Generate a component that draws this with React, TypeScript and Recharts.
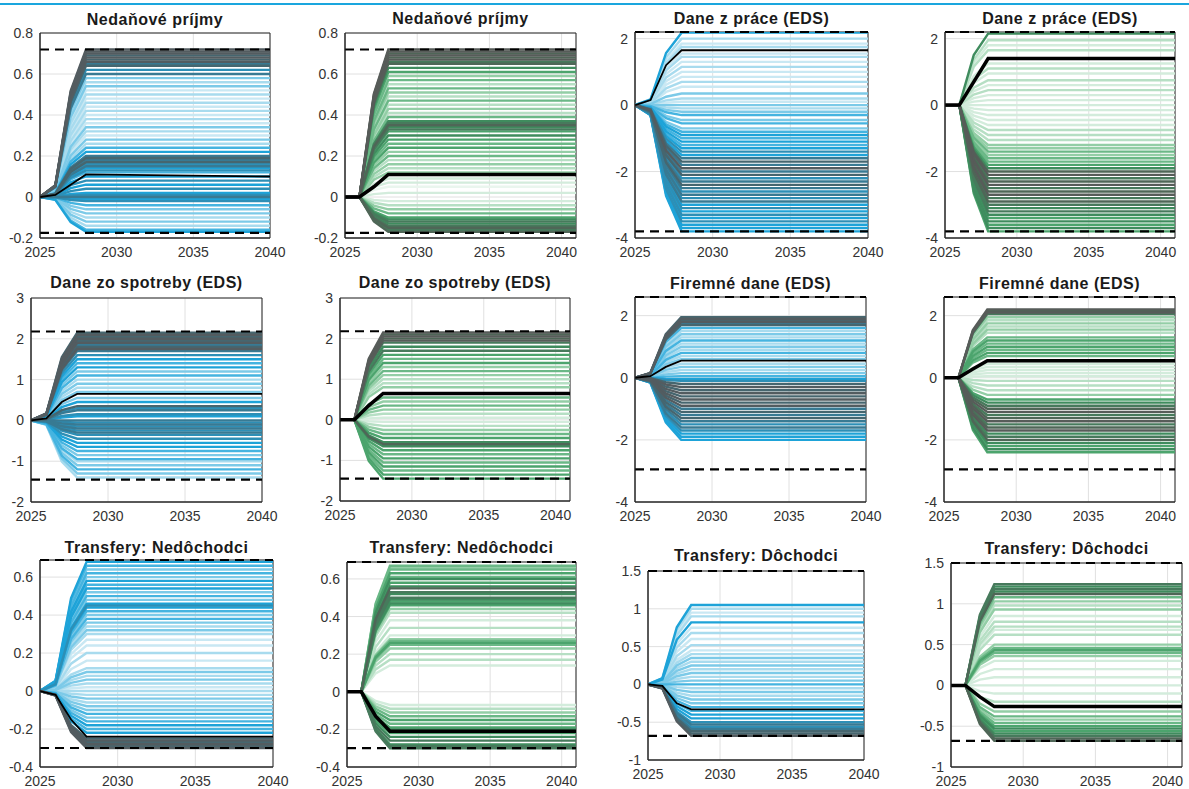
import React from 'react';
import { LineChart, Line, XAxis, YAxis, CartesianGrid, ReferenceLine, ReferenceArea } from 'recharts';

// years on the x axis (blue panels stop at 2040, green ones run to 2041)
const yearsBlue = [2025, 2026, 2027, 2028, 2040];
const yearsGreen = [2025, 2026, 2027, 2028, 2041];
// share of the final level reached in each of those years
const rampBlue = [0, 0.08, 0.72, 1, 1];
const rampGreen = [0, 0, 0.7, 1, 1];
const xTicks = [2025, 2030, 2035, 2040];

const titles = [
  'Nedaňové príjmy', 'Nedaňové príjmy', 'Dane z práce (EDS)', 'Dane z práce (EDS)',
  'Dane zo spotreby (EDS)', 'Dane zo spotreby (EDS)', 'Firemné dane (EDS)', 'Firemné dane (EDS)',
  'Transfery: Nedôchodci', 'Transfery: Nedôchodci', 'Transfery: Dôchodci', 'Transfery: Dôchodci',
];

// final levels of the fan lines, and their weight (0 = pale, 9 = dark)
const p1Levels = [0.72, 0.71, 0.70, 0.69, 0.68, 0.67, 0.66, 0.65, 0.64, 0.62, 0.60, 0.58, 0.56, 0.54, 0.52, 0.50, 0.48, 0.46, 0.44, 0.42, 0.40, 0.38, 0.36, 0.34, 0.32, 0.30, 0.28, 0.26, 0.24, 0.22, 0.20, 0.19, 0.18, 0.17, 0.16, 0.15, 0.14, 0.13, 0.12, 0.10, 0.08, 0.06, 0.04, 0.02, 0.01, 0.0, -0.01, -0.02, -0.04, -0.06, -0.08, -0.10, -0.12, -0.14, -0.16, -0.17];
const p1Weights = [9, 9, 9, 8, 9, 8, 9, 7, 8, 6, 7, 3, 2, 3, 1, 2, 1, 2, 1, 2, 1, 2, 1, 3, 2, 1, 3, 2, 4, 5, 7, 8, 7, 8, 6, 7, 5, 6, 4, 5, 6, 5, 6, 5, 6, 7, 5, 6, 4, 3, 3, 2, 3, 2, 4, 5];
const p2Levels = [0.72, 0.71, 0.70, 0.69, 0.68, 0.67, 0.66, 0.65, 0.63, 0.61, 0.59, 0.57, 0.55, 0.53, 0.51, 0.49, 0.47, 0.45, 0.43, 0.41, 0.39, 0.37, 0.36, 0.35, 0.34, 0.33, 0.32, 0.30, 0.28, 0.26, 0.24, 0.22, 0.20, 0.18, 0.16, 0.14, 0.12, 0.09, 0.07, 0.05, 0.02, -0.02, -0.04, -0.06, -0.08, -0.10, -0.11, -0.12, -0.13, -0.14, -0.15, -0.16, -0.17];
const p2Weights = [9, 9, 8, 9, 8, 9, 7, 8, 6, 5, 3, 4, 2, 4, 3, 2, 4, 2, 3, 2, 4, 6, 7, 8, 6, 7, 5, 6, 5, 4, 5, 3, 4, 2, 3, 2, 3, 1, 1, 0, 1, 1, 2, 3, 4, 5, 6, 7, 6, 7, 8, 7, 8];
const p3Levels = [2.18, 2.0, 1.85, 1.75, 1.55, 1.45, 1.3, 1.15, 1.0, 0.85, 0.7, 0.55, 0.35, 0.2, 0.1, 0.0, -0.1, -0.2, -0.3, -0.45, -0.55, -0.7, -0.8, -0.9, -1.0, -1.1, -1.2, -1.3, -1.4, -1.5, -1.6, -1.7, -1.8, -1.9, -2.0, -2.1, -2.2, -2.3, -2.4, -2.5, -2.6, -2.7, -2.8, -2.9, -3.0, -3.1, -3.2, -3.3, -3.4, -3.5, -3.6, -3.7, -3.8];
const p3Weights = [5, 2, 1, 2, 1, 2, 1, 2, 1, 1, 2, 1, 3, 2, 1, 3, 2, 3, 4, 3, 4, 3, 4, 5, 4, 5, 4, 5, 6, 5, 7, 8, 7, 9, 7, 8, 6, 7, 8, 7, 6, 7, 6, 7, 5, 6, 5, 6, 5, 6, 5, 5, 5];
const p4Levels = [2.15, 1.95, 1.8, 1.65, 1.25, 1.1, 0.95, 0.75, 0.6, 0.45, 0.3, 0.15, 0.0, -0.15, -0.3, -0.45, -0.6, -0.75, -0.9, -1.05, -1.2, -1.3, -1.4, -1.5, -1.6, -1.7, -1.8, -1.9, -2.0, -2.1, -2.2, -2.3, -2.4, -2.5, -2.6, -2.7, -2.8, -2.9, -3.0, -3.1, -3.2, -3.3, -3.4, -3.5, -3.6, -3.7, -3.8];
const p4Weights = [6, 2, 1, 2, 1, 2, 1, 2, 1, 2, 1, 1, 1, 1, 1, 1, 1, 2, 2, 2, 3, 3, 4, 3, 4, 4, 5, 6, 8, 9, 7, 8, 9, 7, 8, 9, 7, 8, 7, 6, 7, 6, 5, 6, 5, 6, 5];
const p5Levels = [2.15, 2.1, 2.05, 2.0, 1.95, 1.9, 1.85, 1.8, 1.75, 1.7, 1.6, 1.5, 1.4, 1.3, 1.2, 1.1, 1.0, 0.9, 0.8, 0.7, 0.55, 0.45, 0.35, 0.3, 0.25, 0.15, 0.1, 0.0, -0.05, -0.1, -0.15, -0.2, -0.25, -0.3, -0.35, -0.45, -0.55, -0.65, -0.75, -0.85, -0.95, -1.0, -1.1, -1.2, -1.3, -1.4];
const p5Weights = [8, 9, 8, 9, 8, 9, 7, 8, 9, 7, 6, 5, 4, 5, 3, 4, 2, 3, 2, 3, 3, 5, 8, 6, 7, 6, 5, 7, 6, 7, 6, 7, 6, 7, 6, 6, 5, 5, 4, 3, 4, 2, 3, 4, 3, 2];
const p6Levels = [2.15, 2.1, 2.05, 2.0, 1.95, 1.9, 1.8, 1.7, 1.6, 1.5, 1.4, 1.3, 1.2, 1.1, 1.0, 0.9, 0.8, 0.55, 0.45, 0.35, 0.25, 0.15, 0.05, -0.05, -0.15, -0.25, -0.35, -0.45, -0.55, -0.6, -0.65, -0.75, -0.85, -0.95, -1.05, -1.15, -1.25, -1.35, -1.45];
const p6Weights = [9, 8, 9, 8, 9, 7, 6, 7, 5, 4, 5, 3, 4, 3, 2, 2, 3, 4, 3, 4, 3, 2, 1, 1, 2, 3, 4, 5, 6, 8, 6, 5, 4, 5, 4, 5, 4, 5, 5];
const p7Levels = [1.95, 1.9, 1.85, 1.8, 1.75, 1.7, 1.6, 1.5, 1.4, 1.3, 1.2, 1.1, 1.0, 0.9, 0.8, 0.7, 0.6, 0.45, 0.35, 0.25, 0.15, 0.05, -0.05, -0.1, -0.2, -0.3, -0.4, -0.5, -0.6, -0.7, -0.8, -0.9, -1.0, -1.1, -1.2, -1.3, -1.4, -1.5, -1.6, -1.7, -1.8, -1.9, -2.0];
const p7Weights = [8, 9, 8, 9, 7, 8, 4, 2, 3, 2, 4, 2, 3, 2, 4, 2, 3, 2, 3, 2, 3, 4, 5, 6, 8, 9, 8, 9, 8, 9, 8, 9, 7, 8, 7, 8, 7, 6, 7, 6, 5, 5, 5];
const p8Levels = [2.2, 2.15, 2.1, 2.05, 1.95, 1.85, 1.75, 1.65, 1.55, 1.45, 1.3, 1.2, 1.1, 1.0, 0.9, 0.8, 0.7, 0.45, 0.35, 0.25, 0.15, 0.05, -0.1, -0.25, -0.4, -0.55, -0.7, -0.8, -0.9, -1.0, -1.1, -1.2, -1.3, -1.4, -1.5, -1.6, -1.7, -1.8, -1.9, -2.0, -2.1, -2.2, -2.3, -2.4];
const p8Weights = [9, 8, 9, 7, 3, 2, 3, 2, 3, 2, 4, 5, 4, 5, 4, 5, 4, 1, 1, 1, 1, 1, 2, 2, 2, 3, 5, 6, 7, 8, 9, 7, 8, 9, 7, 8, 9, 6, 7, 8, 6, 5, 6, 5];
const p9Levels = [0.68, 0.66, 0.64, 0.62, 0.6, 0.58, 0.56, 0.54, 0.52, 0.5, 0.48, 0.46, 0.45, 0.44, 0.42, 0.4, 0.38, 0.36, 0.34, 0.32, 0.3, 0.27, 0.24, 0.2, 0.16, 0.12, 0.1, 0.08, 0.06, 0.04, 0.02, 0.0, -0.02, -0.04, -0.06, -0.08, -0.1, -0.12, -0.14, -0.16, -0.18, -0.2, -0.22, -0.25, -0.26, -0.27, -0.28, -0.29, -0.3];
const p9Weights = [5, 4, 3, 4, 3, 5, 4, 5, 3, 4, 3, 5, 6, 5, 4, 3, 4, 3, 2, 3, 2, 1, 1, 2, 1, 2, 3, 2, 3, 2, 1, 2, 2, 3, 2, 3, 3, 4, 3, 4, 5, 4, 5, 8, 9, 8, 9, 8, 9];
const p10Levels = [0.67, 0.66, 0.65, 0.63, 0.61, 0.6, 0.58, 0.56, 0.55, 0.53, 0.52, 0.5, 0.49, 0.48, 0.47, 0.46, 0.44, 0.42, 0.38, 0.34, 0.3, 0.28, 0.27, 0.26, 0.25, 0.23, 0.2, 0.17, 0.14, -0.07, -0.09, -0.11, -0.13, -0.15, -0.17, -0.19, -0.2, -0.22, -0.24, -0.26, -0.28, -0.29, -0.3];
const p10Weights = [4, 3, 4, 5, 4, 6, 5, 6, 8, 7, 6, 7, 6, 5, 6, 5, 3, 2, 1, 2, 1, 3, 4, 5, 4, 3, 2, 2, 1, 1, 2, 3, 4, 5, 4, 5, 6, 5, 6, 7, 6, 7, 7];
const p11Levels = [1.05, 1.0, 0.95, 0.9, 0.82, 0.75, 0.68, 0.6, 0.52, 0.45, 0.4, 0.35, 0.3, 0.25, 0.2, 0.15, 0.1, 0.05, 0.0, -0.05, -0.1, -0.15, -0.2, -0.25, -0.3, -0.35, -0.4, -0.45, -0.5, -0.53, -0.56, -0.59, -0.62, -0.65, -0.68];
const p11Weights = [5, 2, 1, 2, 5, 1, 2, 1, 2, 1, 2, 3, 2, 3, 2, 3, 2, 3, 4, 2, 3, 2, 3, 3, 4, 4, 5, 5, 6, 7, 6, 7, 8, 8, 9];
const p12Levels = [1.24, 1.21, 1.18, 1.15, 1.12, 1.08, 1.03, 0.98, 0.93, 0.85, 0.78, 0.72, 0.68, 0.62, 0.5, 0.46, 0.43, 0.4, 0.36, 0.3, 0.2, 0.1, 0.0, -0.1, -0.2, -0.32, -0.38, -0.42, -0.46, -0.5, -0.53, -0.56, -0.59, -0.62, -0.65, -0.68];
const p12Weights = [7, 6, 7, 6, 8, 4, 3, 2, 3, 1, 2, 2, 1, 2, 3, 4, 5, 4, 3, 1, 1, 1, 1, 1, 2, 3, 4, 3, 4, 5, 6, 5, 6, 7, 8, 8];

// median path (black line), one value per year in yearsBlue / yearsGreen
const medians = [
  [0, 0.01, 0.06, 0.11, 0.10],
  [0, 0, 0.05, 0.11, 0.11],
  [0, 0.15, 1.2, 1.65, 1.65],
  [0, 0, 0.7, 1.4, 1.4],
  [0, 0.05, 0.45, 0.65, 0.65],
  [0, 0, 0.35, 0.65, 0.65],
  [0, 0.05, 0.35, 0.55, 0.55],
  [0, 0, 0.28, 0.55, 0.55],
  [0, -0.02, -0.15, -0.24, -0.24],
  [0, 0, -0.13, -0.21, -0.21],
  [0, -0.02, -0.25, -0.33, -0.33],
  [0, 0, -0.14, -0.26, -0.26],
];

// dashed bounds [upper, lower] per row pair
const bounds = [[0.72, -0.175], [2.2, -3.8], [2.18, -1.45], [2.6, -2.95], [0.69, -0.3], [1.5, -0.68]];
const yDomains = [[-0.2, 0.8], [-4, 2.2], [-2, 3], [-4, 2.6], [-0.4, 0.69], [-1, 1.5]];
const yTickSets = [
  [-0.2, 0, 0.2, 0.4, 0.6, 0.8],
  [-4, -2, 0, 2],
  [-2, -1, 0, 1, 2, 3],
  [-4, -2, 0, 2],
  [-0.4, -0.2, 0, 0.2, 0.4, 0.6],
  [-1, -0.5, 0, 0.5, 1, 1.5],
];

const allLevels = [p1Levels, p2Levels, p3Levels, p4Levels, p5Levels, p6Levels, p7Levels, p8Levels, p9Levels, p10Levels, p11Levels, p12Levels];
const allWeights = [p1Weights, p2Weights, p3Weights, p4Weights, p5Weights, p6Weights, p7Weights, p8Weights, p9Weights, p10Weights, p11Weights, p12Weights];

// plot-area placement of each panel (x, y, w, h) and title baseline
const layout = [
  { x: 40, y: 33, w: 230, h: 205, tb: 25 },
  { x: 345, y: 33, w: 231, h: 205, tb: 24 },
  { x: 635, y: 32, w: 233, h: 206, tb: 24 },
  { x: 945, y: 32, w: 230, h: 206, tb: 24 },
  { x: 31, y: 298, w: 231, h: 204, tb: 288 },
  { x: 340, y: 298, w: 230, h: 203, tb: 288 },
  { x: 635, y: 297, w: 231, h: 205, tb: 289 },
  { x: 944, y: 297, w: 231, h: 205, tb: 289 },
  { x: 40, y: 560, w: 233, h: 207, tb: 553 },
  { x: 347, y: 562, w: 229, h: 205, tb: 553 },
  { x: 648, y: 571, w: 216, h: 189, tb: 561 },
  { x: 951, y: 563, w: 231, h: 204, tb: 554 },
];

const bluePalette = ['#e3f3f9', '#c9e8f3', '#a8dbee', '#7ccae8', '#45b4e0', '#1ea3d8', '#2d8fb6', '#387a93', '#46666f', '#535c60'];
const greenPalette = ['#eaf6ee', '#d3ecdc', '#b6dfc4', '#93cea6', '#6bb887', '#4ca46d', '#3f8c5e', '#477a5c', '#4f6657', '#575c59'];

const AXIS_W = 45;
const TOP_PAD = 12;
const RIGHT_PAD = 24;
const tickStyle = { fontSize: 14, fill: '#333', fontFamily: '"Liberation Sans", Arial, sans-serif' };

function Panel({ idx }: { idx: number }) {
  const green = idx % 2 === 1;
  const row = Math.floor(idx / 4);
  const pair = row * 2 + Math.floor((idx % 4) / 2);
  const years = green ? yearsGreen : yearsBlue;
  const ramp = green ? rampGreen : rampBlue;
  const levels = allLevels[idx];
  const weights = allWeights[idx];
  const median = medians[idx];
  const palette = green ? greenPalette : bluePalette;
  const [yMin, yMax] = yDomains[pair];
  const [upper, lower] = bounds[pair];
  const xMax = years[years.length - 1];
  const L = layout[idx];

  const data = years.map((yr, i) => {
    const r: Record<string, number> = { year: yr, median: median[i] };
    levels.forEach((lv, j) => {
      r['s' + j] = lv * ramp[i];
    });
    return r;
  });

  const order = levels.map((_, j) => j).sort((a, b) => weights[a] - weights[b]);

  return (
    <>
      <div
        style={{
          position: 'absolute',
          left: L.x - 20,
          width: L.w + 40,
          top: L.tb - 13,
          lineHeight: '16px',
          fontSize: 16,
          letterSpacing: 0.5,
          fontWeight: 'bold',
          textAlign: 'center',
          color: '#1a1a1a',
          whiteSpace: 'nowrap',
          fontFamily: '"Liberation Sans", Arial, sans-serif',
        }}
      >
        {titles[idx]}
      </div>
      <div style={{ position: 'absolute', left: L.x - AXIS_W, top: L.y - TOP_PAD }}>
        <LineChart
          width={L.w + AXIS_W + RIGHT_PAD}
          height={L.h + TOP_PAD + 28}
          data={data}
          margin={{ top: TOP_PAD, right: RIGHT_PAD, left: 0, bottom: 0 }}
        >
          <CartesianGrid stroke="#e0e0e0" />
          <XAxis
            dataKey="year"
            type="number"
            domain={[2025, xMax]}
            ticks={xTicks}
            allowDataOverflow
            height={28}
            tickLine={false}
            tickSize={0}
            tickMargin={9}
            axisLine={{ stroke: '#262626' }}
            tick={tickStyle}
            interval={0}
          />
          <YAxis
            type="number"
            domain={[yMin, yMax]}
            ticks={yTickSets[pair]}
            allowDataOverflow
            width={AXIS_W}
            tickLine={false}
            tickSize={0}
            tickMargin={7}
            axisLine={{ stroke: '#262626' }}
            tick={tickStyle}
            interval={0}
          />
          {order.map((j) => (
            <Line
              key={j}
              type="linear"
              dataKey={'s' + j}
              stroke={palette[weights[j]]}
              strokeWidth={2.4}
              dot={false}
              activeDot={false}
              isAnimationActive={false}
            />
          ))}
          <Line
            type="linear"
            dataKey="median"
            stroke="#000"
            strokeWidth={green ? 3.5 : 1.8}
            dot={false}
            activeDot={false}
            isAnimationActive={false}
          />
          <ReferenceLine y={upper} stroke="#000" strokeWidth={2} strokeDasharray="9 6" />
          <ReferenceLine y={lower} stroke="#000" strokeWidth={2.2} strokeDasharray="9 6" />
          <ReferenceArea x1={2025} x2={xMax} y1={yMin} y2={yMax} fill="none" stroke="#262626" strokeWidth={1} />
        </LineChart>
      </div>
    </>
  );
}

export default function App() {
  return (
    <div style={{ position: 'absolute', left: 0, top: 0, width: 1189, height: 789, background: '#fff', overflow: 'hidden' }}>
      <div style={{ position: 'absolute', left: 0, top: 3, width: 1189, height: 2, background: '#1aa6de' }} />
      {titles.map((_, i) => (
        <Panel key={i} idx={i} />
      ))}
    </div>
  );
}
